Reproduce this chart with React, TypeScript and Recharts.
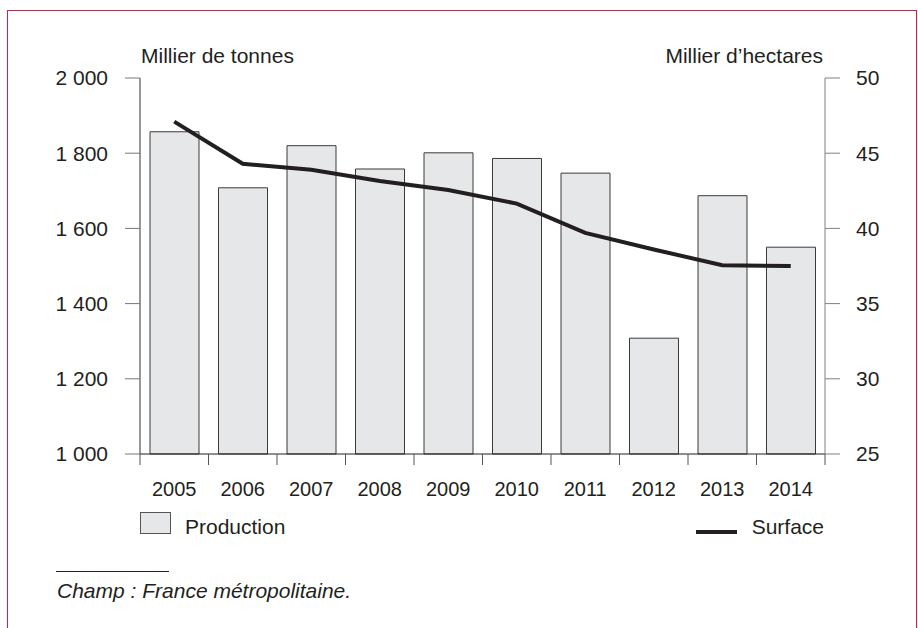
import { ComposedChart, Bar, Line, XAxis, YAxis, Legend } from 'recharts'

const years = ['2005', '2006', '2007', '2008', '2009', '2010', '2011', '2012', '2013', '2014']
// milliers de tonnes
const production = [1857, 1708, 1820, 1758, 1801, 1786, 1747, 1308, 1687, 1550]
// milliers d'hectares
const surface = [47.1, 44.3, 43.9, 43.15, 42.55, 41.65, 39.7, 38.6, 37.55, 37.5]
const leftTicks = [1000, 1200, 1400, 1600, 1800, 2000]
const rightTicks = [25, 30, 35, 40, 45, 50]

const data = years.map((y, i) => ({ year: y, production: production[i], surface: surface[i] }))

const INK = '#231f20'
const FONT = '"Liberation Sans", Arial, sans-serif'

const fmtThousands = (v: number) => {
  const s = String(v)
  return s.length > 3 ? s.slice(0, s.length - 3) + ' ' + s.slice(-3) : s
}

// year label + tick marks on the band edges (not the band centre)
function YearTick(props: any) {
  const { x, y, payload, index, visibleTicksCount } = props
  const half = payload?.offset ?? 0
  const last = index === visibleTicksCount - 1
  return (
    <g>
      <line x1={x - half} x2={x - half} y1={y} y2={y + 11} stroke="#555" />
      {last && <line x1={x + half} x2={x + half} y1={y} y2={y + 11} stroke="#555" />}
      <text x={x} y={y + 28} dy="0.72em" textAnchor="middle" fill={INK} fontSize={20} fontFamily={FONT}>
        {payload.value}
      </text>
    </g>
  )
}

function LegendContent(props: any) {
  const items = props.payload || []
  const bar = items.find((p: any) => p.dataKey === 'production')
  const line = items.find((p: any) => p.dataKey === 'surface')
  return (
    <div style={{ position: 'relative', width: 686, height: 30, fontFamily: FONT, fontSize: 21, color: INK }}>
      {bar && (
        <>
          <div
            style={{
              position: 'absolute',
              left: 0,
              top: 2,
              width: 29,
              height: 20,
              background: '#e6e7e8',
              border: '1px solid #555',
            }}
          />
          <div style={{ position: 'absolute', left: 45, top: 6, lineHeight: '21px' }}>{bar.value}</div>
        </>
      )}
      {line && (
        <>
          <div style={{ position: 'absolute', left: 556, top: 20, width: 41, height: 4, background: INK }} />
          <div style={{ position: 'absolute', right: 2, top: 6, lineHeight: '21px' }}>{line.value}</div>
        </>
      )}
    </div>
  )
}

export default function App() {
  return (
    <div
      style={{
        position: 'absolute',
        left: 0,
        top: 0,
        width: 918,
        height: 628,
        overflow: 'hidden',
        background: '#fff',
        fontFamily: FONT,
        color: INK,
      }}
    >
      <div
        style={{
          position: 'absolute',
          left: 7,
          top: 10,
          width: 908,
          height: 700,
          borderTop: '1.5px solid #e5173f',
          borderLeft: '1.5px solid #e5173f',
          borderRight: '1.5px solid #e5173f',
        }}
      />
      <div style={{ position: 'absolute', left: 141, top: 45, fontSize: 21, lineHeight: '21px' }}>
        Millier de tonnes
      </div>
      <div style={{ position: 'absolute', right: 95, top: 45, fontSize: 21, lineHeight: '21px' }}>
        Millier d’hectares
      </div>
      <div style={{ position: 'absolute', left: 0, top: 0 }}>
        <ComposedChart width={918} height={628} data={data} margin={{ top: 78, right: 0, bottom: 134, left: 0 }}>
          <XAxis
            dataKey="year"
            height={40}
            axisLine={{ stroke: INK, strokeWidth: 1 }}
            tickLine={false}
            tickSize={0}
            tickMargin={0}
            interval={0}
            tick={<YearTick />}
          />
          <YAxis
            yAxisId="left"
            width={140}
            domain={[1000, 2000]}
            ticks={leftTicks}
            tickFormatter={fmtThousands}
            tickSize={15}
            tickMargin={17}
            axisLine={{ stroke: '#333' }}
            tickLine={{ stroke: '#777' }}
            tick={{ fill: INK, fontSize: 21, fontFamily: FONT }}
          />
          <YAxis
            yAxisId="right"
            orientation="right"
            width={93}
            domain={[25, 50]}
            ticks={rightTicks}
            tickSize={15}
            tickMargin={16}
            axisLine={{ stroke: '#808080' }}
            tickLine={{ stroke: '#808080' }}
            tick={{ fill: INK, fontSize: 21, fontFamily: FONT }}
          />
          <Legend
            layout="horizontal"
            verticalAlign="middle"
            align="center"
            wrapperStyle={{ position: 'absolute', left: 140, top: 510, width: 686, height: 30 }}
            content={<LegendContent />}
          />
          <Bar
            yAxisId="left"
            dataKey="production"
            name="Production"
            barSize={49}
            fill="#e6e7e8"
            stroke="#3a3a3a"
            strokeWidth={1}
            legendType="square"
            isAnimationActive={false}
          />
          <Line
            yAxisId="right"
            dataKey="surface"
            name="Surface"
            type="linear"
            stroke={INK}
            strokeWidth={4}
            dot={false}
            activeDot={false}
            legendType="line"
            isAnimationActive={false}
          />
        </ComposedChart>
      </div>
      <div style={{ position: 'absolute', left: 56, top: 571, width: 113, height: 1, background: INK }} />
      <div style={{ position: 'absolute', left: 57, top: 580, fontSize: 21, lineHeight: '21px', fontStyle: 'italic' }}>
        Champ : France métropolitaine.
      </div>
    </div>
  )
}
